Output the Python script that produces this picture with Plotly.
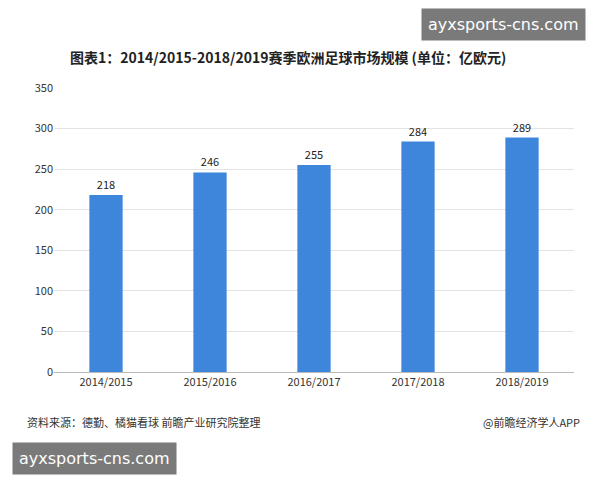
import plotly.graph_objects as go

categories = ["2014/2015", "2015/2016", "2016/2017", "2017/2018", "2018/2019"]
values = [218, 246, 255, 284, 289]
yticks = [0, 50, 100, 150, 200, 250, 300, 350]

L, R, T, B = 46, 34, 80, 116
SX0, SY0 = 54, 372  # screen position of plot bottom-left
fig = go.Figure(go.Bar(
    x=categories, y=values, text=[str(v) for v in values], textposition="outside",
    textfont=dict(size=11, color="#222"), marker=dict(color="#3d86dc", line=dict(width=0)),
    width=0.32, cliponaxis=False))

def ann(text, px, py, xanchor="center", **kw):
    return dict(text=text, x=0, y=0, xshift=px - SX0, yshift=SY0 - py,
                xanchor=xanchor, yanchor="middle",
                xref="paper", yref="paper", showarrow=False, **kw)

fig.update_layout(
    width=600, height=480, paper_bgcolor="white", plot_bgcolor="white",
    margin=dict(l=L, r=R, t=T, b=B), showlegend=False,
    font=dict(family="Noto Sans CJK SC", size=11, color="#333"),
    xaxis=dict(showline=True, linecolor="#bbb", ticks="", tickfont=dict(size=11)),
    yaxis=dict(range=[0, 350], tickvals=yticks, gridcolor="#e3e3e3", zeroline=False,
               showline=False, tickfont=dict(size=11)),
    annotations=[
        ann("<b>图表1：2014/2015-2018/2019赛季欧洲足球市场规模 (单位：亿欧元)</b>", 288, 57,
            font=dict(size=14, color="#222")),
        ann("资料来源：德勤、橘猫看球 前瞻产业研究院整理", 25, 422, xanchor="left",
            font=dict(size=11, color="#333")),
        ann("@前瞻经济学人APP", 582, 422, xanchor="right", font=dict(size=11, color="#333")),
        ann("ayxsports-cns.com", 586, 24, xanchor="right", bgcolor="#7a7a7a",
            font=dict(size=16, color="white", family="DejaVu Sans"), borderpad=6),
        ann("ayxsports-cns.com", 12, 458, xanchor="left", bgcolor="#7a7a7a",
            font=dict(size=16, color="white", family="DejaVu Sans"), borderpad=6),
    ],
)
fig.write_html("out.html")
